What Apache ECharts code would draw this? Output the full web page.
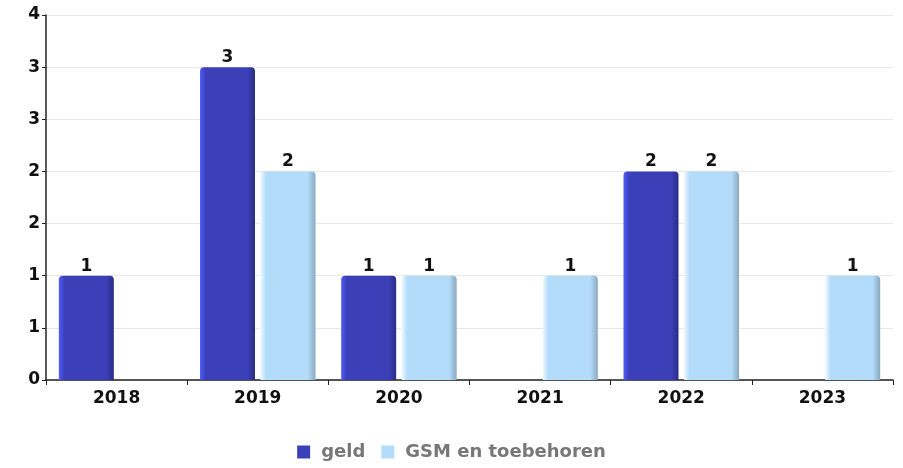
<!DOCTYPE html>
<html>
<head>
<meta charset="utf-8">
<script src="https://cdn.jsdelivr.net/npm/echarts@6/dist/echarts.min.js"></script>
<style>
  html, body { margin: 0; padding: 0; background: #fff; }
  #main { width: 903px; height: 468px; }
</style>
</head>
<body>
<div id="main"></div>
<script>
const years = ['2018', '2019', '2020', '2021', '2022', '2023']
const geld = [1, 3, 1, 0, 2, 0]
const gsm = [0, 2, 1, 1, 2, 1]

const chart = echarts.init(document.getElementById('main'))

// zijkant van de balk iets lichter / donkerder, zoals het origineel
function barColor(light, main, dark) {
    return new echarts.graphic.LinearGradient(0, 0, 1, 0, [
        { offset: 0, color: light },
        { offset: 0.1, color: main },
        { offset: 0.86, color: main },
        { offset: 1, color: dark },
    ])
}

const labelStyle = {
    show: true,
    position: 'top',
    distance: 1,
    color: '#111',
    fontFamily: 'DejaVu Sans',
    fontWeight: 'bold',
    fontSize: 17,
    formatter: (p) => (p.value ? p.value : ''),
}

const option = {
    animation: false,
    textStyle: { fontFamily: 'DejaVu Sans' },
    grid: { left: 46, right: 10, top: 15, bottom: 88 },
    legend: {
        bottom: 2,
        left: 'center',
        icon: 'rect',
        itemWidth: 13,
        itemHeight: 13,
        itemGap: 16,
        textStyle: {
            color: '#777',
            fontWeight: 'bold',
            fontSize: 18,
            fontFamily: 'DejaVu Sans',
            padding: [0, 0, 0, 6],
        },
        data: [
            { name: 'geld', itemStyle: { color: '#3b40b8' } },
            { name: 'GSM en toebehoren', itemStyle: { color: '#b3dcfa' } },
        ],
    },
    xAxis: {
        type: 'category',
        data: years,
        axisLine: { lineStyle: { color: '#222', width: 1.5 } },
        axisTick: { show: true, length: 5, lineStyle: { color: '#222' } },
        axisLabel: { color: '#111', fontWeight: 'bold', fontSize: 17, margin: 10 },
    },
    yAxis: {
        type: 'value',
        min: 0,
        max: 3.5,
        interval: 0.5,
        axisLine: { show: true, lineStyle: { color: '#222', width: 1.5 } },
        axisTick: { show: true, length: 4, lineStyle: { color: '#222' } },
        axisLabel: {
            color: '#111',
            fontWeight: 'bold',
            fontSize: 17,
            margin: 6,
            formatter: (v) => Math.round(v),
        },
        splitLine: { lineStyle: { color: '#e8e8e8' } },
    },
    series: [
        {
            name: 'geld',
            type: 'bar',
            data: geld,
            barWidth: 55,
            barGap: '10%',
            itemStyle: {
                color: barColor('#4f5cff', '#3b40b8', '#2b2d86'),
                borderRadius: [4, 4, 0, 0],
            },
            label: labelStyle,
        },
        {
            name: 'GSM en toebehoren',
            type: 'bar',
            data: gsm,
            barWidth: 55,
            itemStyle: {
                color: barColor('#eefaff', '#b3dcfa', '#8aa8c0'),
                borderRadius: [4, 4, 0, 0],
            },
            label: labelStyle,
        },
    ],
}
option && chart.setOption(option)
</script>
</body>
</html>
